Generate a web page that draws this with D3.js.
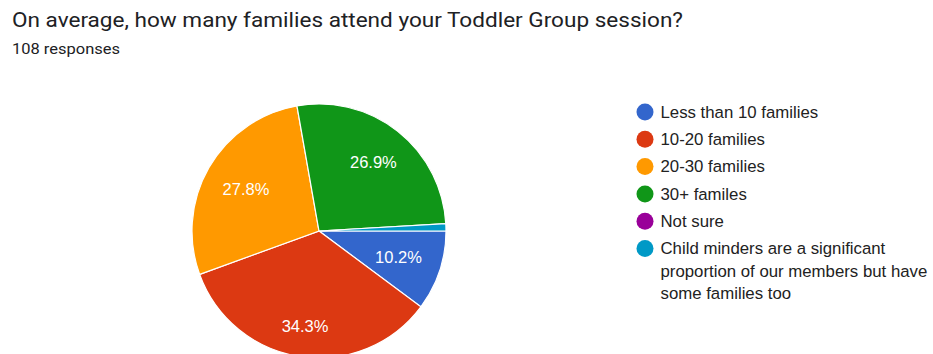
<!DOCTYPE html>
<html>
<head>
<meta charset="utf-8">
<script src="https://cdn.jsdelivr.net/npm/d3@7"></script>
<style>
  html, body { margin: 0; padding: 0; background: #fff; }
  svg { display: block; }
</style>
</head>
<body>
<svg id="chart" width="933" height="354"></svg>
<script>
// Survey answers and their response counts (108 responses in total)
const categories = [
  "Less than 10 families",
  "10-20 families",
  "20-30 families",
  "30+ familes",
  "Not sure",
  "Child minders are a significant proportion of our members but have some families too"
];
const counts = [11, 37, 30, 29, 0, 1];
const percentLabels = ["10.2%", "34.3%", "27.8%", "26.9%", "", ""];
const colors = ["#3366cc", "#dc3912", "#ff9900", "#109618", "#990099", "#0099c6"];
// Legend text broken into lines as displayed
const legendLines = [
  ["Less than 10 families"],
  ["10-20 families"],
  ["20-30 families"],
  ["30+ familes"],
  ["Not sure"],
  ["Child minders are a significant", "proportion of our members but have", "some families too"]
];
const title = "On average, how many families attend your Toddler Group session?";
const subtitle = "108 responses";

const svg = d3.select("#chart");

svg.append("text")
  .attr("x", 12).attr("y", 27)
  .attr("font-family", "Roboto, sans-serif")
  .attr("font-size", 21)
  .attr("textLength", 671)
  .attr("lengthAdjust", "spacingAndGlyphs")
  .attr("fill", "#202124")
  .text(title);

svg.append("text")
  .attr("x", 12).attr("y", 54)
  .attr("font-family", "Roboto, sans-serif")
  .attr("font-size", 15.5)
  .attr("textLength", 108)
  .attr("lengthAdjust", "spacingAndGlyphs")
  .attr("fill", "#202124")
  .text(subtitle);

// Pie: slices run clockwise starting from the 3 o'clock position
const cx = 319, cy = 231, r = 127;
const pie = d3.pie().sort(null).value(d => d)
  .startAngle(Math.PI / 2).endAngle(Math.PI / 2 + 2 * Math.PI);
const arcs = pie(counts);
const arc = d3.arc().innerRadius(0).outerRadius(r);

const g = svg.append("g").attr("transform", `translate(${cx},${cy})`);

g.selectAll("path.slice")
  .data(arcs.filter(d => d.value > 0))
  .join("path")
  .attr("class", "slice")
  .attr("d", arc)
  .attr("fill", d => colors[d.index])
  .attr("stroke", "#fff")
  .attr("stroke-width", 1.2);

// Percentage labels: each label's outer box corner sits on a fixed radius
const labelOuterR = r * 0.85, halfTextH = 6;
g.selectAll("text.pct")
  .data(arcs.filter(d => percentLabels[d.index] !== ""))
  .join("text")
  .attr("class", "pct")
  .attr("text-anchor", "middle")
  .attr("dy", "0.35em")
  .attr("font-family", "Arial, 'Liberation Sans', sans-serif")
  .attr("font-size", 16.5)
  .attr("fill", "#fff")
  .text(d => percentLabels[d.index])
  .attr("transform", function(d) {
    const a = (d.startAngle + d.endAngle) / 2;
    const ux = Math.sin(a), uy = -Math.cos(a);
    const w = this.getBBox().width / 2, h = halfTextH;
    const b = Math.abs(ux) * w + Math.abs(uy) * h;
    const c = w * w + h * h - labelOuterR * labelOuterR;
    const t = -b + Math.sqrt(b * b - c);
    return `translate(${t * ux},${t * uy})`;
  });

// Legend
const legendX = 645, legendY0 = 112, itemStep = 27.3, lineStep = 22.5;
const legend = svg.append("g");
let y = legendY0;
categories.forEach((c, i) => {
  const item = legend.append("g").attr("transform", `translate(${legendX},${y})`);
  item.append("circle").attr("r", 8.5).attr("fill", colors[i]);
  const t = item.append("text")
    .attr("font-family", "Arial, 'Liberation Sans', sans-serif")
    .attr("font-size", 16.8)
    .attr("fill", "#222");
  legendLines[i].forEach((line, k) => {
    t.append("tspan").attr("x", 15.5).attr("y", k * lineStep).attr("dy", "0.35em").text(line);
  });
  y += itemStep + (legendLines[i].length - 1) * lineStep;
});
</script>
</body>
</html>
